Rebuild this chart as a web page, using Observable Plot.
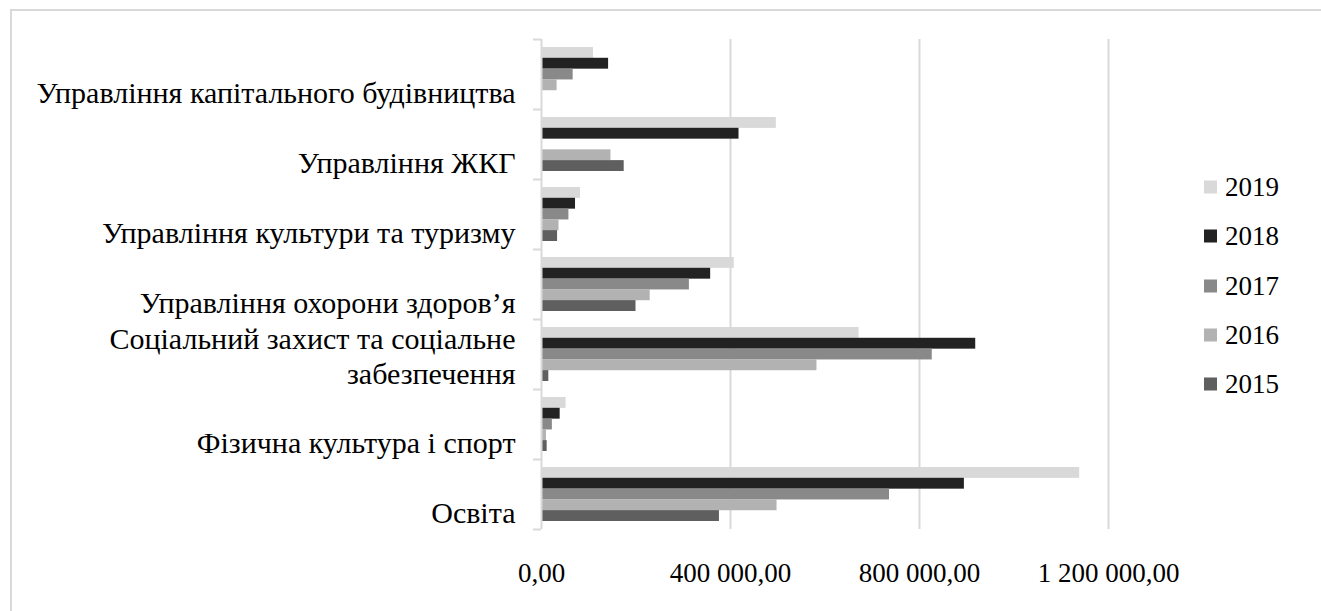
<!DOCTYPE html>
<html>
<head>
<meta charset="utf-8">
<script src="https://cdn.jsdelivr.net/npm/d3@7"></script>
<script src="https://cdn.jsdelivr.net/npm/@observablehq/plot@0.6"></script>
<style>
  html, body { margin: 0; padding: 0; background: #fff; overflow: hidden; }
  #wrap { position: relative; width: 1321px; height: 611px; font-family: "Liberation Serif", "Times New Roman", serif; }
  #frame { position: absolute; left: 10px; top: 9px; width: 1400px; height: 700px; border: 2px solid #d9d9d9; box-sizing: border-box; }
  #chart { position: absolute; left: 0; top: 0; }
  #legend { position: absolute; left: 1204px; top: 0; }
  .item { position: absolute; left: 0; display: flex; align-items: center; white-space: nowrap; font-size: 27px; color: #000; transform: translateY(-50%); }
  .sw { width: 13px; height: 13px; margin-right: 8px; }
  #chart svg text { font-family: "Liberation Serif", "Times New Roman", serif; }
</style>
</head>
<body>
<div id="wrap">
  <div id="frame"></div>
  <div id="chart"></div>
  <div id="legend"></div>
</div>
<script>
// Budget spending by department, 2015–2019
const categories = [
  "Управління капітального будівництва",
  "Управління ЖКГ",
  "Управління культури та туризму",
  "Управління охорони здоров’я",
  "Соціальний захист та соціальне\nзабезпечення",
  "Фізична культура і спорт",
  "Освіта"
];
const years = ["2019", "2018", "2017", "2016", "2015"];
const values2019 = [110000, 497000, 82500, 408000, 672000, 52000, 1139000];
const values2018 = [142000, 418000, 72000, 358000, 919000, 39500, 895000];
const values2017 = [67000, 0, 58000, 313000, 827000, 23000, 736500];
const values2016 = [33000, 147000, 37000, 230000, 583000, 10500, 498500];
const values2015 = [0, 175000, 34000, 200000, 15500, 12000, 376600];
const yearColors = ["#d9d9d9", "#222222", "#898989", "#b2b2b2", "#5f5f5f"];
const xTicks = [0, 400000, 800000, 1200000];
const xTickLabels = ["0,00", "400 000,00", "800 000,00", "1 200 000,00"];

const series = [values2019, values2018, values2017, values2016, values2015];
const rows = years.flatMap((year, i) =>
  categories.map((category, j) => ({category, year, value: series[i][j]}))
);

const W = 1321, H = 611;
const mTop = 39, mBottom = 82, mLeft = 541, mRight = 213;
const padInner = 0.23, padOuter = padInner / 2;
const step = (H - mTop - mBottom) / categories.length;
const barH = step * (1 - padInner) / years.length;
const tickFont = 27;
const labelFont = 30;

const chart = Plot.plot({
  width: W,
  height: H,
  marginTop: mTop,
  marginBottom: mBottom,
  marginLeft: mLeft,
  marginRight: mRight,
  style: {fontFamily: '"Liberation Serif", "Times New Roman", serif', fontSize: tickFont + "px", color: "#000", background: "transparent"},
  x: {domain: [0, 1200000], axis: null},
  y: {domain: categories, paddingInner: padInner, paddingOuter: padOuter, axis: null},
  color: {domain: years, range: yearColors},
  marks: [
    Plot.gridX(xTicks.slice(1), {stroke: "#d9d9d9", strokeOpacity: 1, strokeWidth: 2}),
    // one bar per year, stacked top-to-bottom inside each category band
    ...years.map((year, i) => Plot.barX(rows.filter(r => r.year === year), {
      y: "category", x: "value", fill: "year",
      insetTop: i * barH, insetBottom: (years.length - 1 - i) * barH
    })),
    Plot.ruleX([0], {stroke: "#d9d9d9", strokeWidth: 2}),
    Plot.axisY({anchor: "left", tickSize: 8, dy: -step / 2, fill: "none", stroke: "#d9d9d9", strokeWidth: 2, label: null}),
    Plot.axisY([categories[categories.length - 1]], {anchor: "left", tickSize: 8, dy: step / 2, fill: "none", stroke: "#d9d9d9", strokeWidth: 2, label: null}),
    Plot.axisX(xTicks, {
      anchor: "bottom", tickSize: 0, tickPadding: 33, fontSize: tickFont,
      tickFormat: (d, i) => xTickLabels[i], fill: "#000", label: null
    }),
    Plot.text(categories.filter(c => !c.includes("\n")), {
      y: d => d, text: d => d, frameAnchor: "left", textAnchor: "end",
      dx: -26, dy: 19, fontSize: labelFont, fill: "#000"
    }),
    Plot.text(categories.filter(c => c.includes("\n")), {
      y: d => d, text: d => d, frameAnchor: "left", textAnchor: "end",
      dx: -26, dy: 1, lineHeight: 1.17, fontSize: labelFont, fill: "#000"
    })
  ]
});
document.getElementById("chart").appendChild(chart);

// legend at the right, 2019 on top
const legend = document.getElementById("legend");
years.forEach((year, i) => {
  const item = document.createElement("div");
  item.className = "item";
  item.style.top = (187 + i * 49.3) + "px";
  const sw = document.createElement("span");
  sw.className = "sw";
  sw.style.background = yearColors[i];
  const label = document.createElement("span");
  label.textContent = year;
  item.append(sw, label);
  legend.appendChild(item);
});
</script>
</body>
</html>
